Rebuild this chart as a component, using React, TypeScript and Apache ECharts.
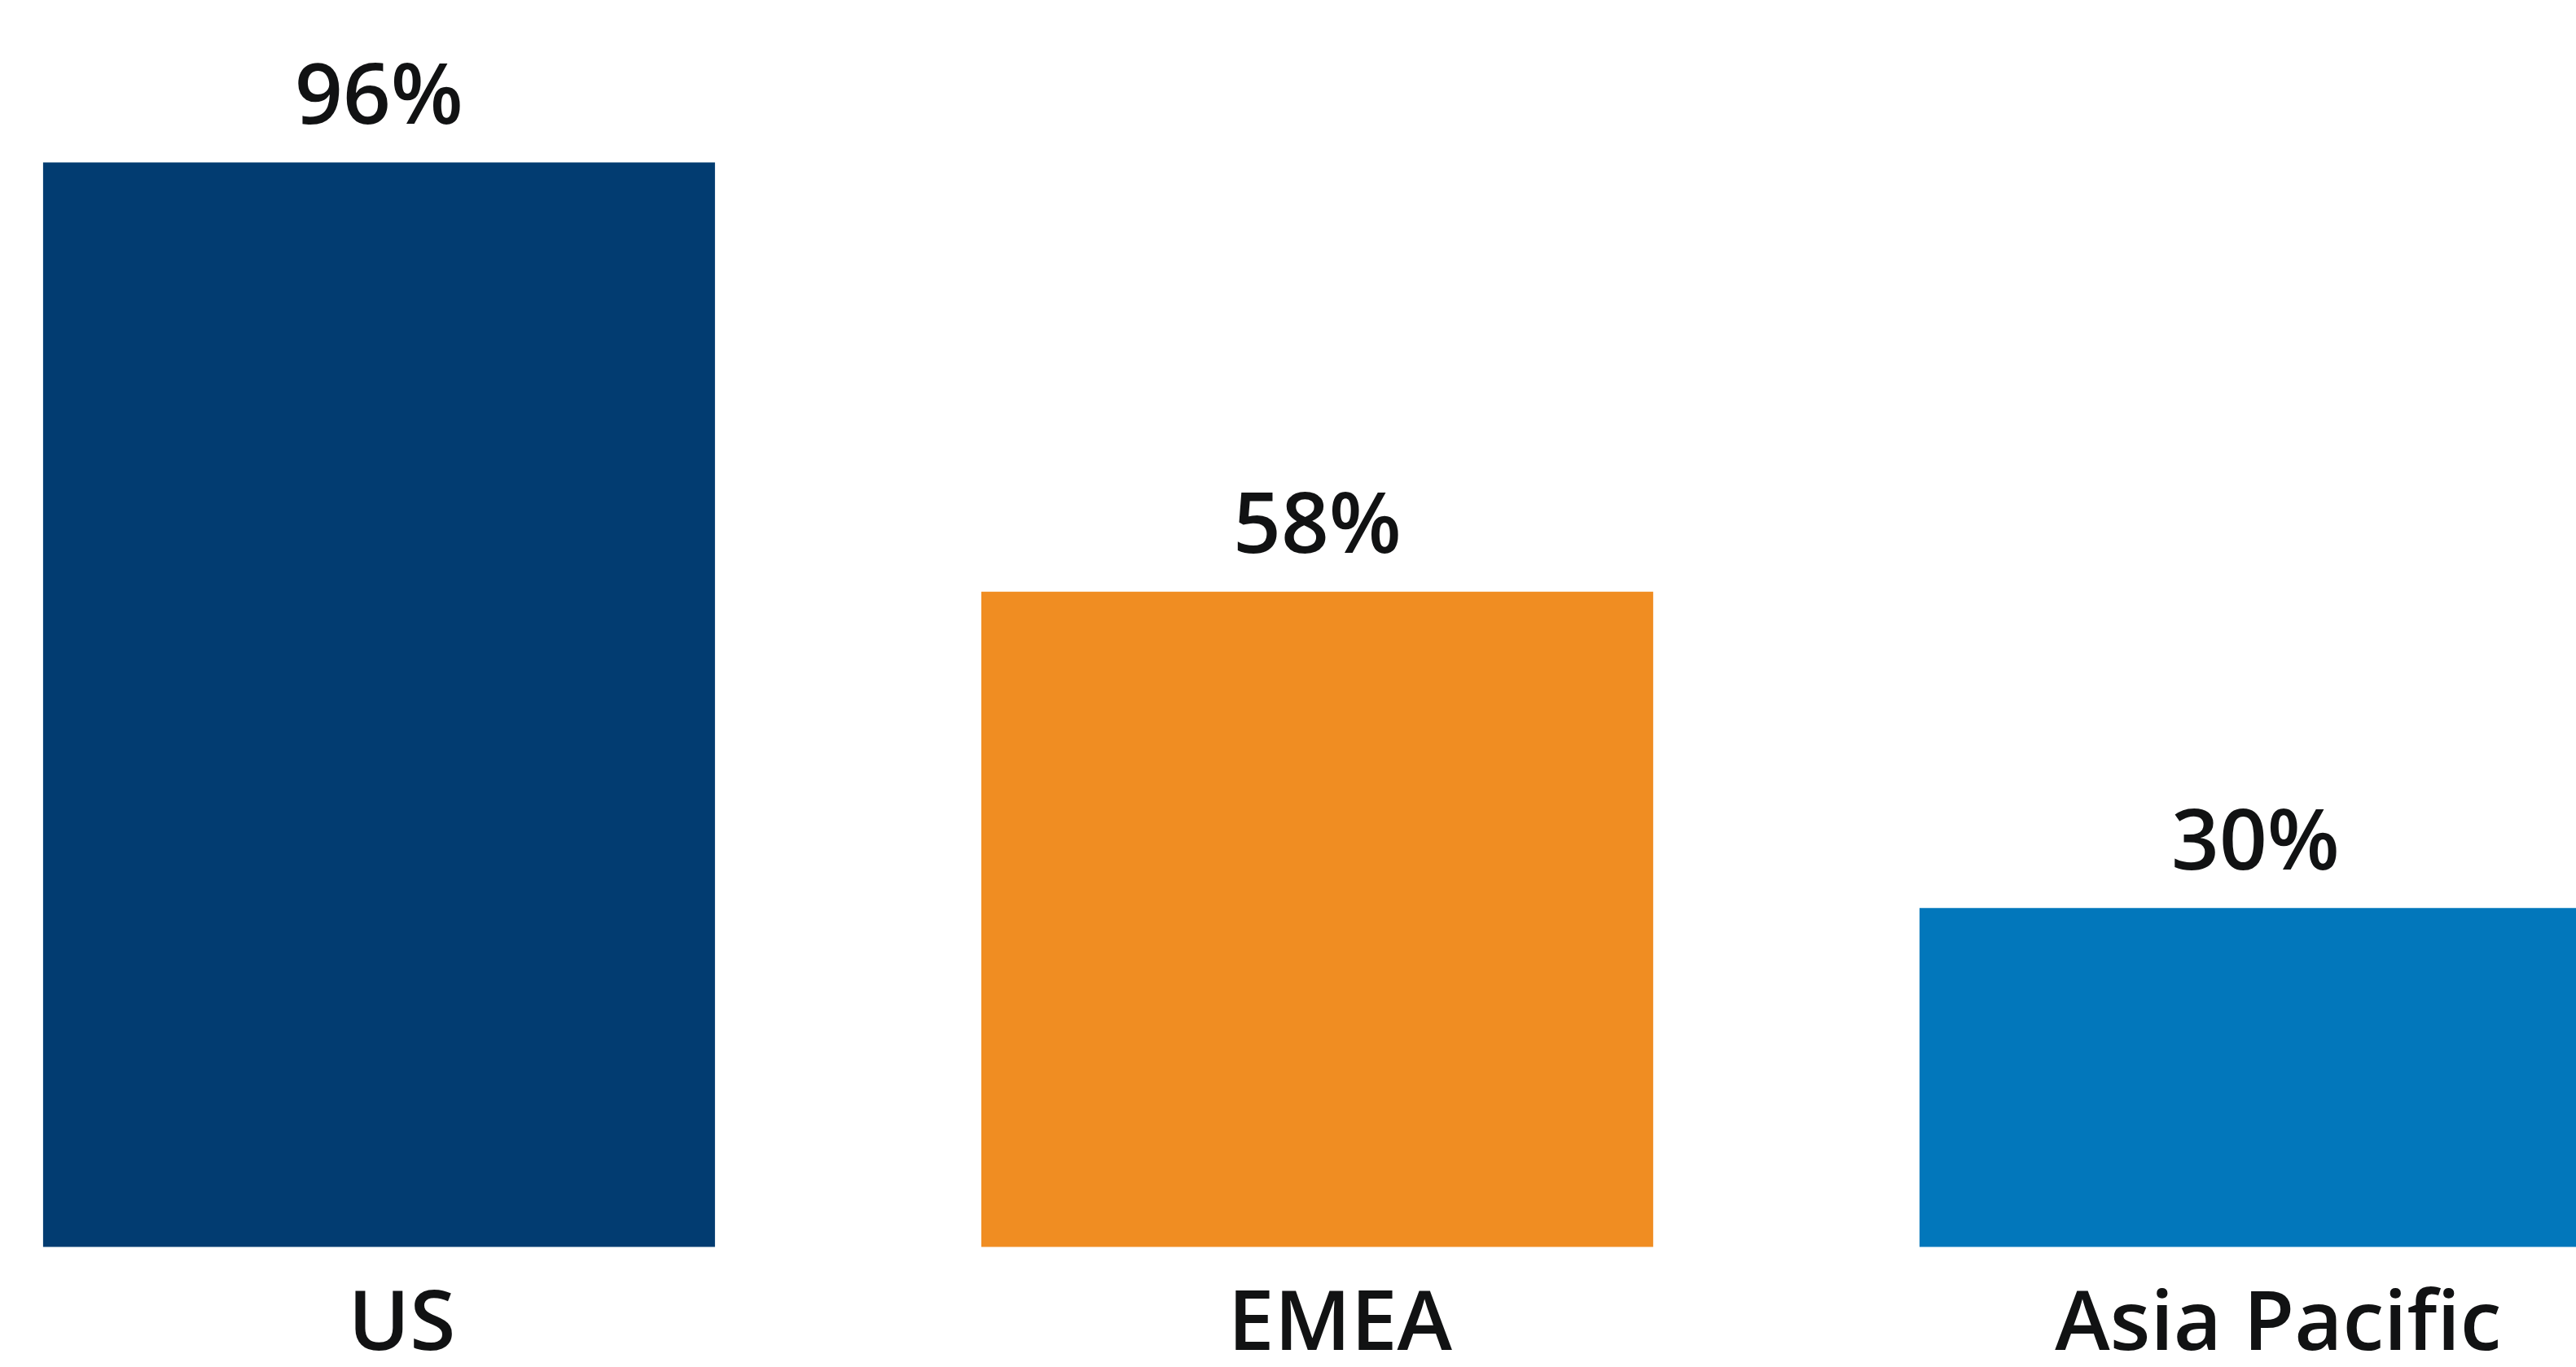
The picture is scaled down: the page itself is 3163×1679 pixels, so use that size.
import React, { useEffect, useRef } from "react";
import * as echarts from "echarts";

const categories = ["US", "EMEA", "Asia Pacific"];
const values = [96, 58, 30];
const barColors = ["#023C71", "#F08D22", "#0277BB"];

export default function App() {
  const ref = useRef<HTMLDivElement>(null);
  useEffect(() => {
    document.body.style.margin = "0";
    const chart = echarts.init(ref.current!, null, { renderer: "svg" });
    chart.setOption({
      animation: false,
      backgroundColor: "#ffffff",
      grid: {
        left: -110.6,
        right: -182.4,
        top: 144,
        bottom: 147.5,
        containLabel: false,
        outerBoundsMode: "none",
      },
      xAxis: {
        type: "category",
        data: categories,
        axisLine: { show: false },
        axisTick: { show: false },
        axisLabel: {
          color: "#111213",
          fontFamily: "Open Sans",
          fontWeight: 600,
          fontSize: 102,
          lineHeight: 102,
          margin: 36,
          padding: [0, 0, 0, 56],
        },
      },
      yAxis: {
        type: "value",
        min: 0,
        max: 100,
        show: false,
        splitLine: { show: false },
      },
      series: [
        {
          type: "bar",
          barWidth: 825,
          data: values.map((v, i) => ({ value: v, itemStyle: { color: barColors[i] } })),
          label: {
            show: true,
            position: "top",
            distance: 36,
            formatter: "{c}%",
            color: "#111213",
            fontFamily: "Open Sans",
            fontWeight: 600,
            fontSize: 103,
          },
        },
      ],
    });
    return () => chart.dispose();
  }, []);
  return <div ref={ref} style={{ position: "fixed", left: 0, top: 0, width: 3163, height: 1679 }} />;
}
